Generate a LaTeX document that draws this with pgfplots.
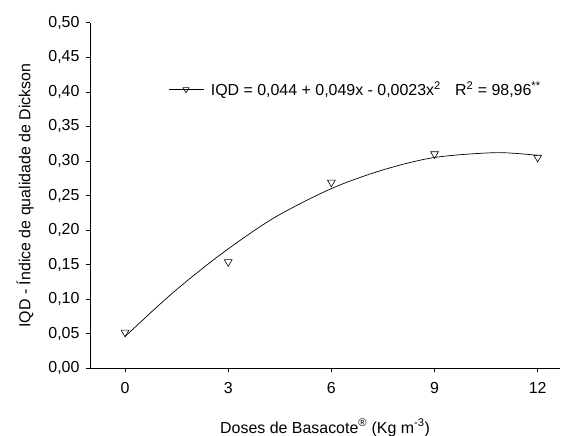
\documentclass[border=0pt]{standalone}
\usepackage{fontspec}
\setmainfont{Liberation Sans}
\usepackage{pgfplots}
\pgfplotsset{compat=1.18}

\begin{document}
\begin{tikzpicture}
\begin{axis}[
	at={(90bp,67.7bp)}, anchor=south west,
	scale only axis,
	width=470bp, height=345.6bp,
	xmin=-1.02, xmax=12.65,
	ymin=0, ymax=0.5,
	axis lines=left,
	axis line style={-, line width=0.7pt},
	tick align=outside,
	major tick length=4bp,
	tick style={black, line width=0.6pt},
	xtick={0,3,6,9,12},
	ytick={0,0.05,...,0.51},
	yticklabel style={xshift=-3bp, /pgf/number format/.cd, fixed, fixed zerofill, precision=2, use comma, assume math mode=true},
	xticklabel style={yshift=-7bp, /pgf/number format/assume math mode=true},
	tick label style={font=\fontsize{16}{18}\selectfont},
	label style={font=\fontsize{16}{19}\selectfont},
	xlabel={Doses de Basacote\textsuperscript{®} (Kg m\textsuperscript{-3})},
	ylabel={IQD - Índice de qualidade de Dickson},
	xlabel style={at={(axis description cs:0.5,-0.172)}, anchor=center},
	ylabel style={at={(axis description cs:-0.138,0.5)}, anchor=center},
	legend style={at={(axis cs:1.25,0.4036)}, anchor=west, draw=none, fill=none,
		font=\fontsize{16}{19}\selectfont, inner xsep=0pt, inner ysep=0pt,
		nodes={inner xsep=7bp}},
	legend cell align=left,
	legend image code/.code={\draw[mark repeat=2,mark phase=2,#1] plot coordinates {(0bp,0bp)(17.5bp,0bp)(35bp,0bp)};},
]
% curva ajustada
\addplot[black, line width=0.7pt, smooth, no marks, forget plot] coordinates {
	(0,0.046) (1.36,0.108) (2.76,0.164) (4.31,0.217) (6,0.260)
	(7.5,0.287) (9,0.305) (10.8,0.312) (12,0.308)
};
\addlegendimage{black, line width=0.6pt, mark=triangle, mark size=3.5bp, mark options={rotate=180, fill=white, line width=0.6pt}}
\addlegendentry{IQD = 0,044 + 0,049x - 0,0023x\textsuperscript{2}\hspace{0.9em}R\textsuperscript{2} = 98,96\textsuperscript{**}}
% valores observados
\addplot[only marks, mark=triangle, mark size=4.5bp, mark options={rotate=180, fill=white, draw=black, line width=0.6pt}, forget plot] coordinates {
	(0,0.052) (3,0.154) (6,0.269) (9,0.310) (12,0.305)
};
\end{axis}
\pgfresetboundingbox
\useasboundingbox (0,0) rectangle (561bp,436bp);
\end{tikzpicture}
\end{document}
